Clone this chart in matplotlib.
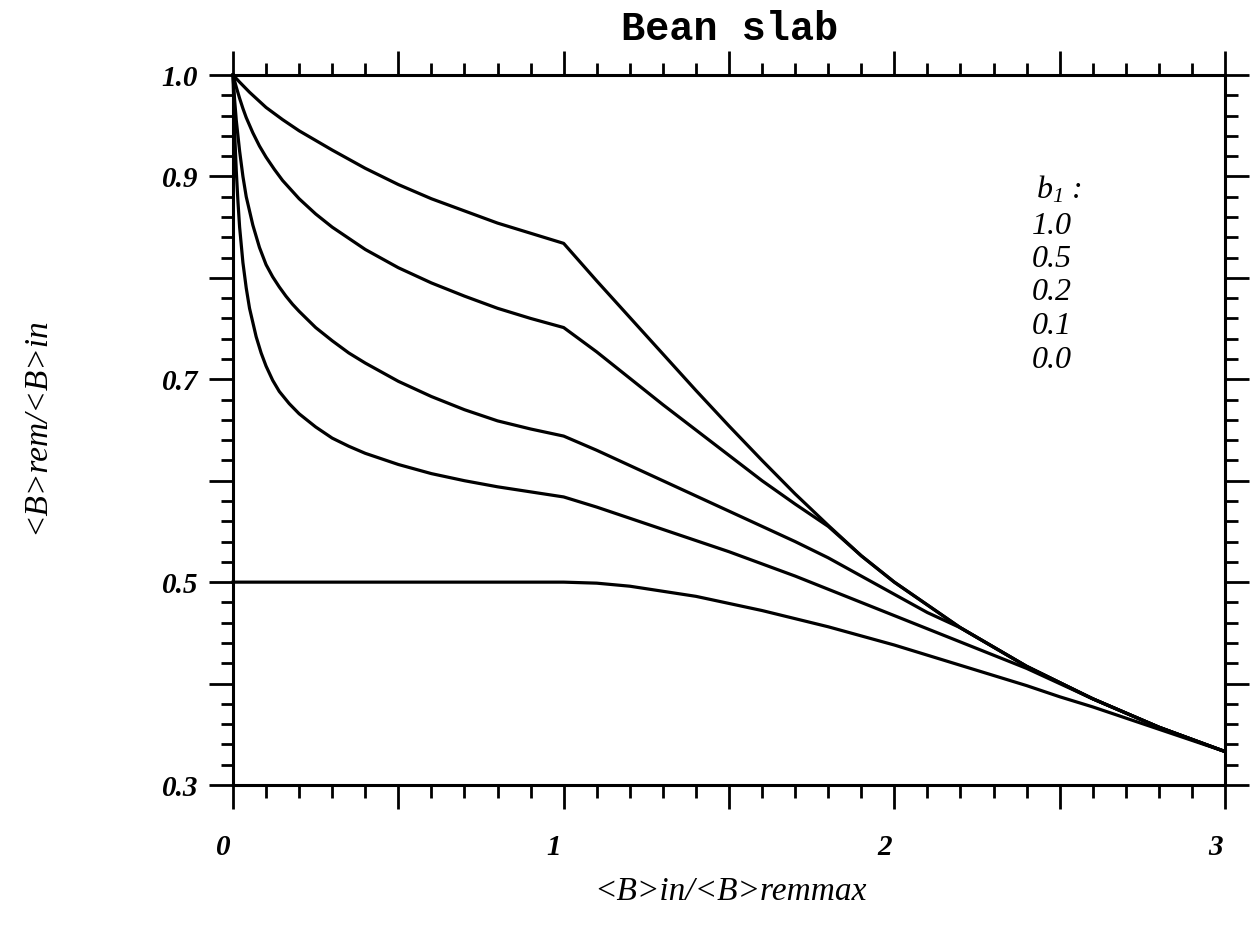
import matplotlib
matplotlib.use("Agg")
import matplotlib.pyplot as plt
from matplotlib.ticker import FixedLocator, MultipleLocator, FuncFormatter

# ---------------- data ----------------
x_b10 = [0, 0.02, 0.05, 0.1, 0.15, 0.2, 0.3, 0.4, 0.5, 0.6, 0.7, 0.8, 0.9, 1.0,
         1.1, 1.2, 1.3, 1.4, 1.5, 1.6, 1.7, 1.8, 1.9, 2.0, 2.2, 2.4, 2.6, 2.8, 3.0]
y_b10 = [1.0, 0.993, 0.983, 0.968, 0.956, 0.945, 0.926, 0.908, 0.892, 0.878, 0.866, 0.854, 0.844, 0.834,
         0.797, 0.761, 0.725, 0.689, 0.654, 0.620, 0.587, 0.556, 0.526, 0.500, 0.455, 0.417, 0.385, 0.357, 0.333]

x_b05 = [0, 0.01, 0.02, 0.03, 0.04, 0.06, 0.08, 0.1, 0.125, 0.15, 0.2, 0.25, 0.3, 0.4, 0.5, 0.6, 0.7, 0.8, 0.9, 1.0,
         1.1, 1.2, 1.3, 1.4, 1.5, 1.6, 1.7, 1.8, 1.9, 2.0, 2.2, 2.4, 2.6, 2.8, 3.0]
y_b05 = [1.0, 0.988, 0.977, 0.967, 0.958, 0.943, 0.930, 0.919, 0.907, 0.896, 0.878, 0.863, 0.850, 0.828, 0.810,
         0.795, 0.782, 0.770, 0.760, 0.751,
         0.727, 0.701, 0.675, 0.650, 0.625, 0.600, 0.577, 0.555, 0.526, 0.500, 0.455, 0.417, 0.385, 0.357, 0.333]

x_b02 = [0, 0.005, 0.01, 0.02, 0.03, 0.04, 0.06, 0.08, 0.1, 0.12, 0.14, 0.16, 0.18, 0.2, 0.25, 0.3, 0.35, 0.4,
         0.5, 0.6, 0.7, 0.8, 0.9, 1.0,
         1.1, 1.2, 1.3, 1.4, 1.5, 1.6, 1.7, 1.8, 1.9, 2.0, 2.1, 2.2, 2.4, 2.6, 2.8, 3.0]
y_b02 = [1.0, 0.975, 0.955, 0.925, 0.900, 0.880, 0.852, 0.830, 0.813, 0.801, 0.791, 0.782, 0.774, 0.767, 0.751,
         0.738, 0.726, 0.716, 0.698, 0.683, 0.670, 0.659, 0.651, 0.644,
         0.630, 0.615, 0.600, 0.585, 0.570, 0.555, 0.540, 0.524, 0.506, 0.488, 0.470, 0.455, 0.417, 0.385, 0.357, 0.333]

x_b01 = [0, 0.003, 0.006, 0.01, 0.015, 0.02, 0.03, 0.04, 0.05, 0.07, 0.085, 0.1, 0.12, 0.14, 0.17, 0.2, 0.25, 0.3,
         0.35, 0.4, 0.5, 0.6, 0.7, 0.8, 0.9, 1.0, 1.1, 1.2, 1.3, 1.4, 1.5, 1.6, 1.7, 1.8, 1.9, 2.0, 2.1, 2.2,
         2.3, 2.4, 2.5, 2.6, 2.8, 3.0]
y_b01 = [1.0, 0.965, 0.935, 0.905, 0.875, 0.850, 0.815, 0.790, 0.770, 0.742, 0.726, 0.713, 0.699, 0.688, 0.676,
         0.666, 0.653, 0.642, 0.634, 0.627, 0.616, 0.607, 0.600, 0.594, 0.589, 0.584, 0.574, 0.563, 0.552, 0.541,
         0.530, 0.518, 0.506, 0.493, 0.480, 0.467, 0.454, 0.441, 0.428, 0.415, 0.400, 0.385, 0.357, 0.333]

x_b00 = [0, 0.5, 1.0, 1.1, 1.2, 1.3, 1.4, 1.5, 1.6, 1.7, 1.8, 1.9, 2.0, 2.1, 2.2, 2.3, 2.4, 2.5, 2.6, 2.7, 2.8, 2.9, 3.0]
y_b00 = [0.5, 0.5, 0.5, 0.499, 0.496, 0.491, 0.486, 0.479, 0.472, 0.464, 0.456, 0.447, 0.438, 0.428, 0.418, 0.408,
         0.398, 0.387, 0.377, 0.366, 0.355, 0.344, 0.333]

legend_title = r"$b_1$ :"
legend_labels = ["1.0", "0.5", "0.2", "0.1", "0.0"]

x_tick_values = [0, 1, 2, 3]
x_tick_labels = ["0", "1", "2", "3"]
y_tick_values = [0.3, 0.5, 0.7, 0.9, 1.0]
y_tick_labels = ["0.3", "0.5", "0.7", "0.9", "1.0"]

title = "Bean slab"
xlabel = "<B>in/<B>remmax"
ylabel = "<B>rem/<B>in"

# ---------------- figure ----------------
plt.rcParams['mathtext.fontset'] = 'custom'
plt.rcParams['mathtext.it'] = 'Liberation Serif:italic'
plt.rcParams['mathtext.rm'] = 'Liberation Serif:italic'

W, H = 1257, 930
fig = plt.figure(figsize=(W / 100, H / 100), dpi=100)
ax = fig.add_axes([233 / W, 1 - 785 / H, (1225 - 233) / W, (785 - 75) / H])

lw = 2.3
for xs, ys in [(x_b10, y_b10), (x_b05, y_b05), (x_b02, y_b02), (x_b01, y_b01), (x_b00, y_b00)]:
    ax.plot(xs, ys, color='black', lw=lw, solid_joinstyle='round', clip_on=False)

ax.set_xlim(0, 3)
ax.set_ylim(0.3, 1.0)

for s in ax.spines.values():
    s.set_linewidth(2.2)

ax.xaxis.set_major_locator(MultipleLocator(0.5))
ax.xaxis.set_minor_locator(MultipleLocator(0.1))
ax.yaxis.set_major_locator(FixedLocator([0.3, 0.4, 0.5, 0.6, 0.7, 0.8, 0.9, 1.0]))
ax.yaxis.set_minor_locator(MultipleLocator(0.02))

ax.tick_params(which='both', direction='out', top=True, right=True, width=2.0, color='black')
ax.tick_params(which='major', length=17)
ax.tick_params(which='minor', length=9)
ax.tick_params(axis='x', which='both', labelbottom=False)

ylab_map = dict(zip([round(v, 2) for v in y_tick_values], y_tick_labels))
ax.yaxis.set_major_formatter(FuncFormatter(lambda v, p: ylab_map.get(round(v, 2), "")))
ax.tick_params(axis='y', which='major', pad=8, labelsize=21)
for lab in ax.get_yticklabels():
    lab.set_fontfamily('Liberation Serif')
    lab.set_fontstyle('italic')
    lab.set_fontweight('bold')

tick_font = dict(family='Liberation Serif', style='italic', weight='bold', size=21)
for xv, xl in zip(x_tick_values, x_tick_labels):
    ax.annotate(xl, xy=(xv, 0), xycoords=ax.get_xaxis_transform(),
                xytext=(-7, -45), textcoords='offset points',
                ha='center', va='center', annotation_clip=False, **tick_font)

# title
fig.text(730 / W, 1 - 29 / H, title, ha='center', va='center',
         family='Liberation Mono', weight='bold', size=29)

# axis labels
fig.text(730 / W, 1 - 892 / H, xlabel, ha='center', va='center',
         family='Liberation Serif', style='italic', size=24)
fig.text(36 / W, 1 - 426 / H, ylabel, ha='center', va='center', rotation=90,
         family='Liberation Serif', style='italic', size=24)

# legend block
leg_font = dict(family='Liberation Serif', style='italic', size=23)
fig.text(1036 / W, 1 - 190 / H, legend_title, ha='left', va='center', **leg_font)
for i, lab in enumerate(legend_labels):
    fig.text(1032 / W, 1 - (226 + 33.5 * i) / H, lab, ha='left', va='center', **leg_font)

fig.savefig("out.png", dpi=100)
